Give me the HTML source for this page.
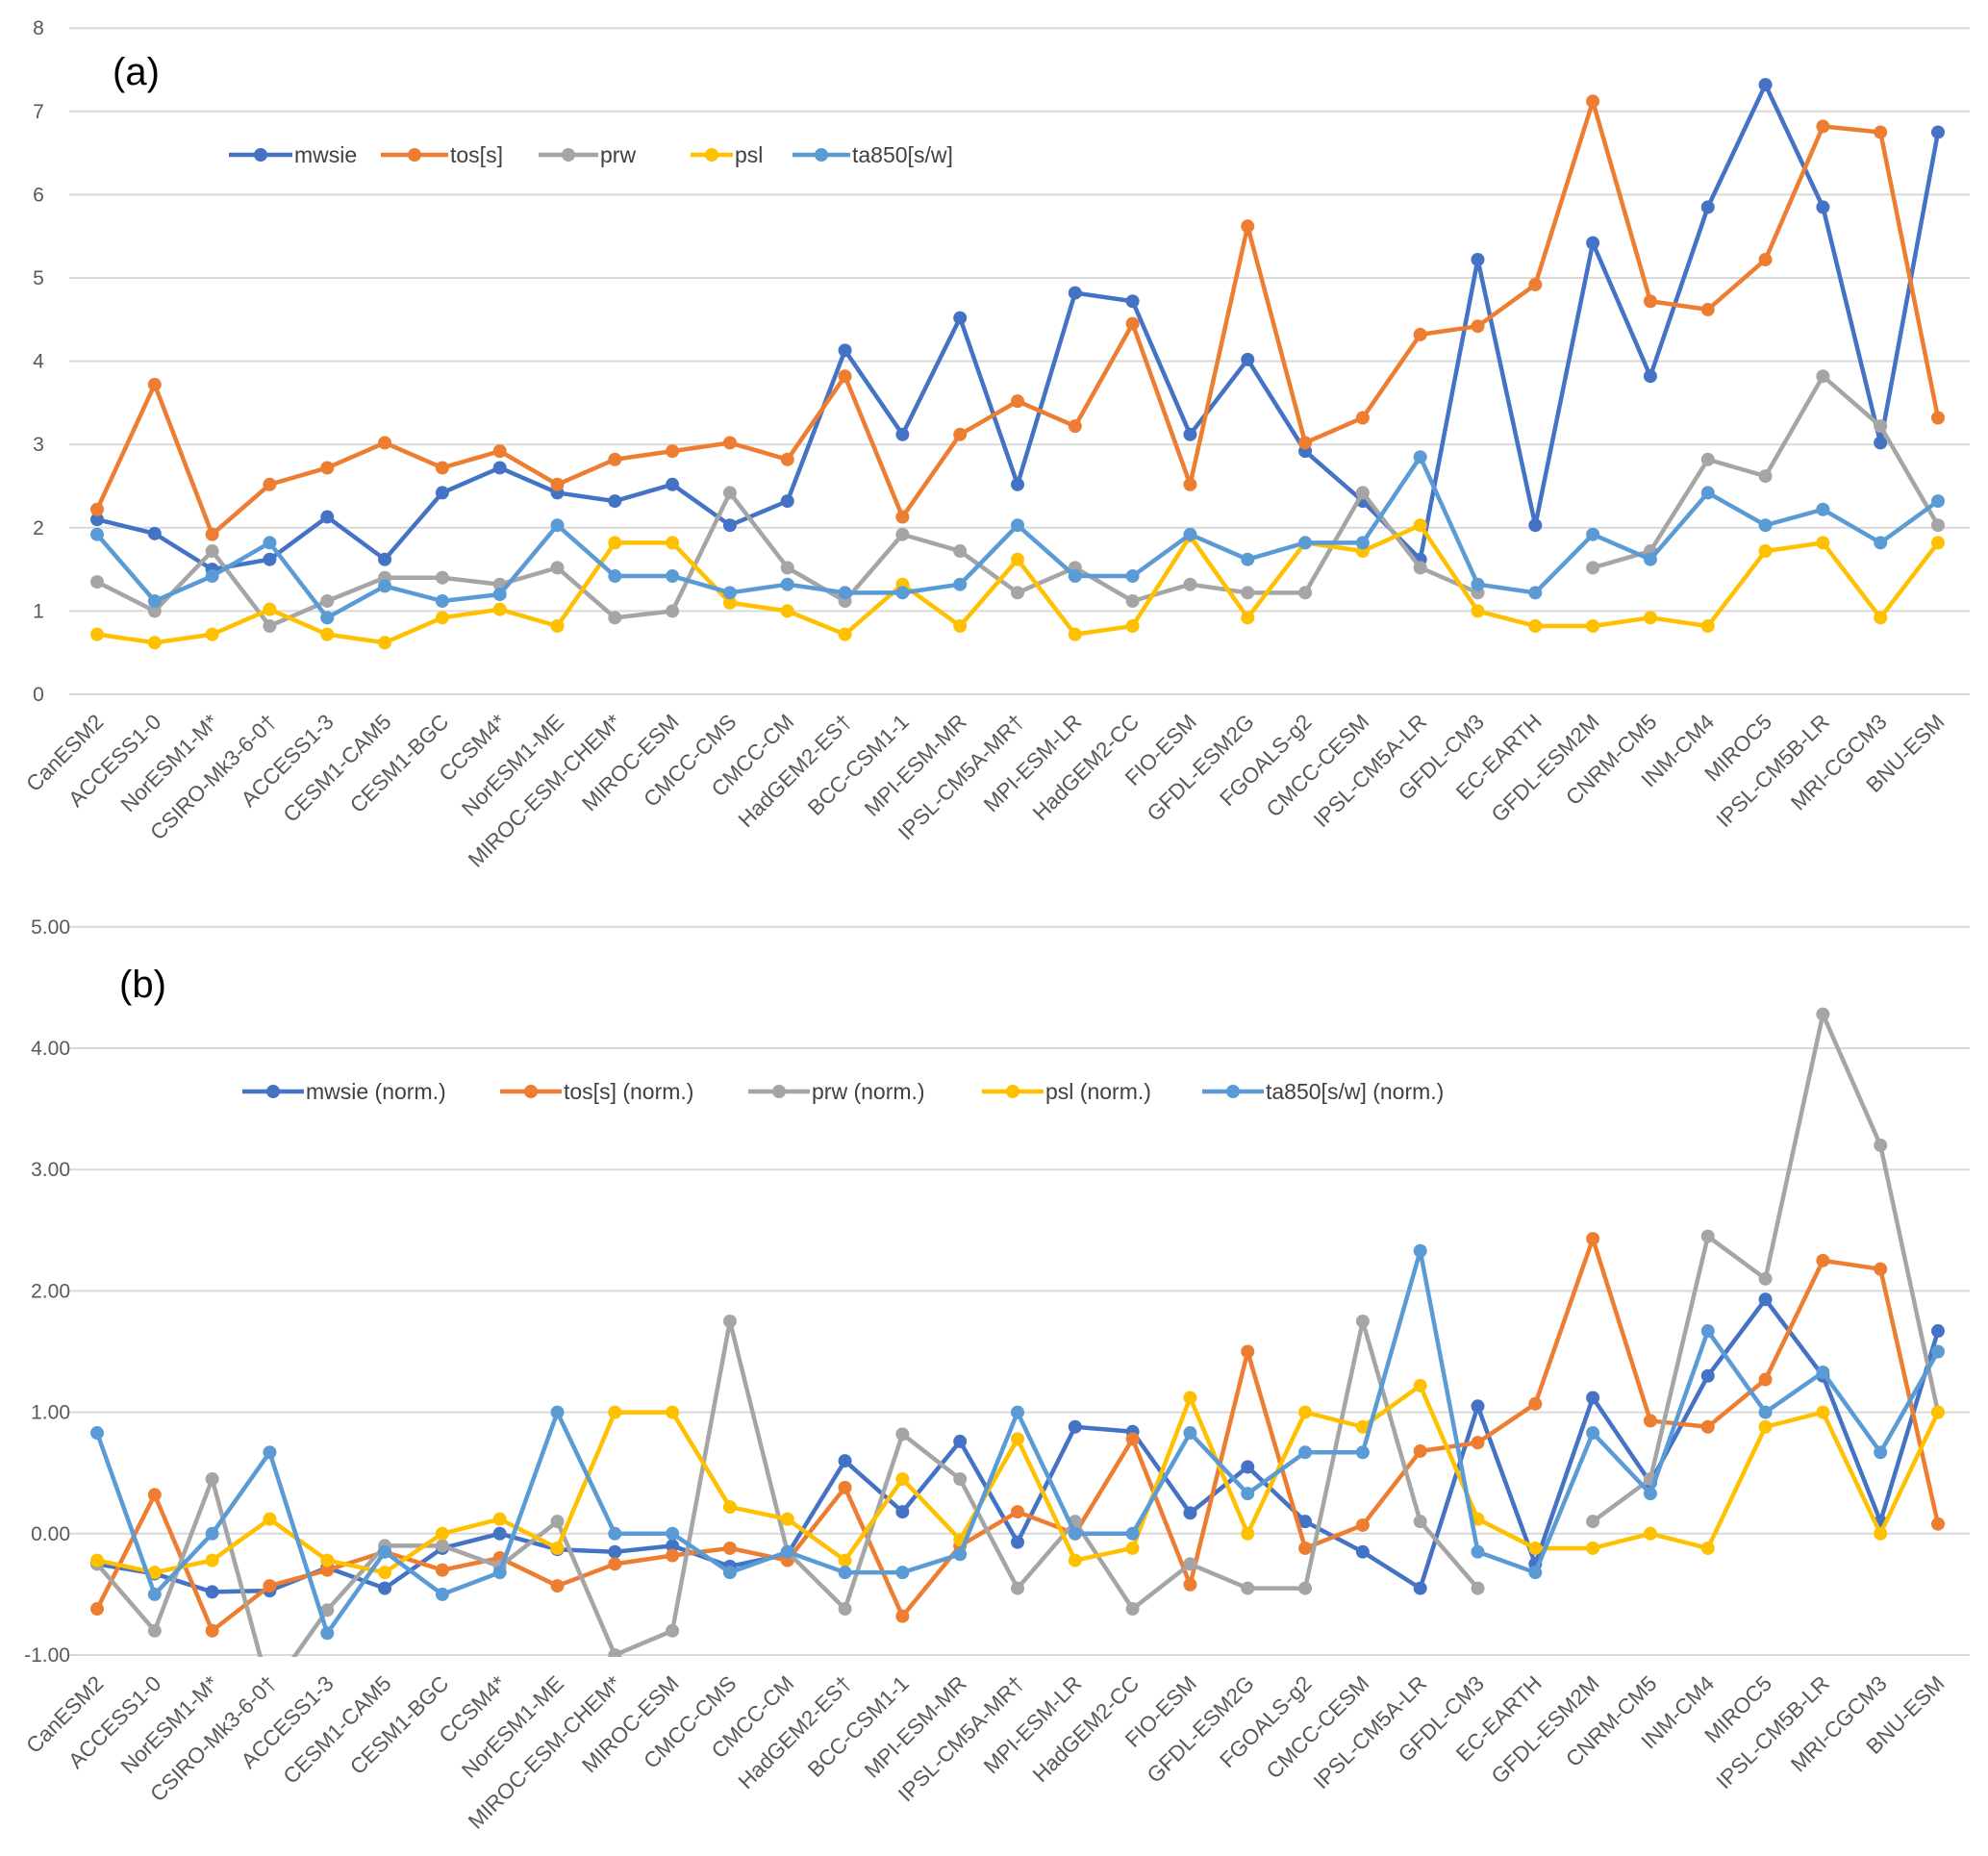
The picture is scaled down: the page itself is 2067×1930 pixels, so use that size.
<!DOCTYPE html>
<html><head><meta charset="utf-8"><style>
html,body{margin:0;padding:0;background:#fff;}
svg{display:block;font-family:"Liberation Sans",sans-serif;}
</style></head><body>
<svg id="chart" width="2067" height="1930" viewBox="0 0 2067 1930" xmlns="http://www.w3.org/2000/svg">
<defs><clipPath id="clipB"><rect x="60" y="950" width="2000" height="773"/></clipPath></defs>
<text x="117" y="88" font-size="40" fill="#000">(a)</text>
<text x="124" y="1037" font-size="40" fill="#000">(b)</text>
</svg>
<script>
const categories=["CanESM2","ACCESS1-0","NorESM1-M*","CSIRO-Mk3-6-0†","ACCESS1-3","CESM1-CAM5","CESM1-BGC","CCSM4*","NorESM1-ME","MIROC-ESM-CHEM*","MIROC-ESM","CMCC-CMS","CMCC-CM","HadGEM2-ES†","BCC-CSM1-1","MPI-ESM-MR","IPSL-CM5A-MR†","MPI-ESM-LR","HadGEM2-CC","FIO-ESM","GFDL-ESM2G","FGOALS-g2","CMCC-CESM","IPSL-CM5A-LR","GFDL-CM3","EC-EARTH","GFDL-ESM2M","CNRM-CM5","INM-CM4","MIROC5","IPSL-CM5B-LR","MRI-CGCM3","BNU-ESM"];
const aMwsie=[2.1,1.93,1.5,1.62,2.13,1.62,2.42,2.72,2.42,2.32,2.52,2.03,2.32,4.13,3.12,4.52,2.52,4.82,4.72,3.12,4.02,2.92,2.32,1.62,5.22,2.03,5.42,3.82,5.85,7.32,5.85,3.02,6.75];
const aTos=[2.22,3.72,1.92,2.52,2.72,3.02,2.72,2.92,2.52,2.82,2.92,3.02,2.82,3.82,2.13,3.12,3.52,3.22,4.45,2.52,5.62,3.02,3.32,4.32,4.42,4.92,7.12,4.72,4.62,5.22,6.82,6.75,3.32];
const aPrw=[1.35,1.0,1.72,0.82,1.12,1.4,1.4,1.32,1.52,0.92,1.0,2.42,1.52,1.12,1.92,1.72,1.22,1.52,1.12,1.32,1.22,1.22,2.42,1.52,1.22,null,1.52,1.72,2.82,2.62,3.82,3.22,2.03];
const aPsl=[0.72,0.62,0.72,1.02,0.72,0.62,0.92,1.02,0.82,1.82,1.82,1.1,1.0,0.72,1.32,0.82,1.62,0.72,0.82,1.9,0.92,1.82,1.72,2.03,1.0,0.82,0.82,0.92,0.82,1.72,1.82,0.92,1.82];
const aTa=[1.92,1.12,1.42,1.82,0.92,1.3,1.12,1.2,2.03,1.42,1.42,1.22,1.32,1.22,1.22,1.32,2.03,1.42,1.42,1.92,1.62,1.82,1.82,2.85,1.32,1.22,1.92,1.62,2.42,2.03,2.22,1.82,2.32];
const bMwsie=[-0.25,-0.33,-0.48,-0.47,-0.28,-0.45,-0.12,0.0,-0.13,-0.15,-0.1,-0.27,-0.17,0.6,0.18,0.76,-0.07,0.88,0.84,0.17,0.55,0.1,-0.15,-0.45,1.05,-0.25,1.12,0.42,1.3,1.93,1.3,0.1,1.67];
const bTos=[-0.62,0.32,-0.8,-0.43,-0.3,-0.15,-0.3,-0.2,-0.43,-0.25,-0.18,-0.12,-0.22,0.38,-0.68,-0.1,0.18,0.0,0.78,-0.42,1.5,-0.12,0.07,0.68,0.75,1.07,2.43,0.93,0.88,1.27,2.25,2.18,0.08];
const bPrw=[-0.25,-0.8,0.45,-1.3,-0.63,-0.1,-0.1,-0.27,0.1,-1.0,-0.8,1.75,-0.15,-0.62,0.82,0.45,-0.45,0.1,-0.62,-0.25,-0.45,-0.45,1.75,0.1,-0.45,null,0.1,0.45,2.45,2.1,4.28,3.2,1.0];
const bPsl=[-0.22,-0.32,-0.22,0.12,-0.22,-0.32,0.0,0.12,-0.12,1.0,1.0,0.22,0.12,-0.22,0.45,-0.05,0.78,-0.22,-0.12,1.12,0.0,1.0,0.88,1.22,0.12,-0.12,-0.12,0.0,-0.12,0.88,1.0,0.0,1.0];
const bTa=[0.83,-0.5,0.0,0.67,-0.82,-0.15,-0.5,-0.32,1.0,0.0,0.0,-0.32,-0.15,-0.32,-0.32,-0.17,1.0,0.0,0.0,0.83,0.33,0.67,0.67,2.33,-0.15,-0.32,0.83,0.33,1.67,1.0,1.33,0.67,1.5];
const aTicks=["0","1","2","3","4","5","6","7","8"];
const bTicks=["-1.00","0.00","1.00","2.00","3.00","4.00","5.00"];
const aNames=["mwsie","tos[s]","prw","psl","ta850[s/w]"];
const bNames=["mwsie (norm.)","tos[s] (norm.)","prw (norm.)","psl (norm.)","ta850[s/w] (norm.)"];

const NS="http://www.w3.org/2000/svg";
const svg=document.getElementById('chart');
const colors=["#4472C4","#ED7D31","#A5A5A5","#FFC000","#5B9BD5"];
function mk(tag,attrs,parent){const e=document.createElementNS(NS,tag);for(const k in attrs)e.setAttribute(k,attrs[k]);(parent||svg).appendChild(e);return e;}
const xOf=i=>101+i*(1914/32);
function drawPanel(p){
  const g=mk('g',{});
  
  
  const yOf=v=>p.y0-(v-p.vmin)*p.unit;
  p.ticks.forEach(t=>{
    const v=parseFloat(t);
    const gl=mk('line',{x1:72,x2:2048,y1:yOf(v),y2:yOf(v),stroke:'#d9d9d9','stroke-width':2},g);
    
    
    const tx=mk('text',{x:p.tickX,y:yOf(v)+7,'font-size':21,fill:'#595959','text-anchor':p.anchor},g);
    
    
    tx.textContent=t;
  });
  categories.forEach((c,i)=>{
    const x=xOf(i)+8,y=p.labY;
    const tx=mk('text',{x:x,y:y,'font-size':22.5,fill:'#595959','text-anchor':'end',transform:`rotate(-45 ${x} ${y})`},g);
    
    
    tx.textContent=c;
  });
  const sg=mk('g',p.clip?{'clip-path':'url(#clipB)'}:{},g);
  p.series.forEach((arr,si)=>{
    let d='',pen=false;
    arr.forEach((v,i)=>{if(v===null){pen=false;return;}d+=(pen?'L':'M')+xOf(i)+' '+yOf(v)+' ';pen=true;});
    const path=mk('path',{d:d,fill:'none',stroke:colors[si],'stroke-width':4.5,'stroke-linejoin':'round'},sg);
    
    
    arr.forEach((v,i)=>{if(v===null)return;
      const c=mk('circle',{cx:xOf(i),cy:yOf(v),r:7,fill:colors[si]},sg);
      
      
    });
  });
  p.names.forEach((n,si)=>{
    const lx=p.legX[si],ly=p.legY,lw=p.legW[si];
    const lg=mk('g',{},g);
    
    
    mk('line',{x1:lx,x2:lx+lw,y1:ly,y2:ly,stroke:colors[si],'stroke-width':4.5},lg);
    mk('circle',{cx:lx+lw/2,cy:ly,r:7,fill:colors[si]},lg);
    const t=mk('text',{x:lx+lw+2,y:ly+8,'font-size':23,fill:'#404040'},lg);
    t.textContent=n;
  });
}
drawPanel({key:'panel-a',ticks:aTicks,vmin:0,y0:722,unit:86.6,tickX:40,anchor:'middle',labY:752,
  series:[aMwsie,aTos,aPrw,aPsl,aTa],names:aNames,legX:[238,396,560,718,824],legW:[66,70,62,44,60],legY:161,clip:false});
drawPanel({key:'panel-b',ticks:bTicks,vmin:-1,y0:1721,unit:126.2,tickX:73,anchor:'end',labY:1752,
  series:[bMwsie,bTos,bPrw,bPsl,bTa],names:bNames,legX:[252,520,778,1021,1250],legW:[64,64,64,64,64],legY:1135,clip:true});
</script>
</body></html>
